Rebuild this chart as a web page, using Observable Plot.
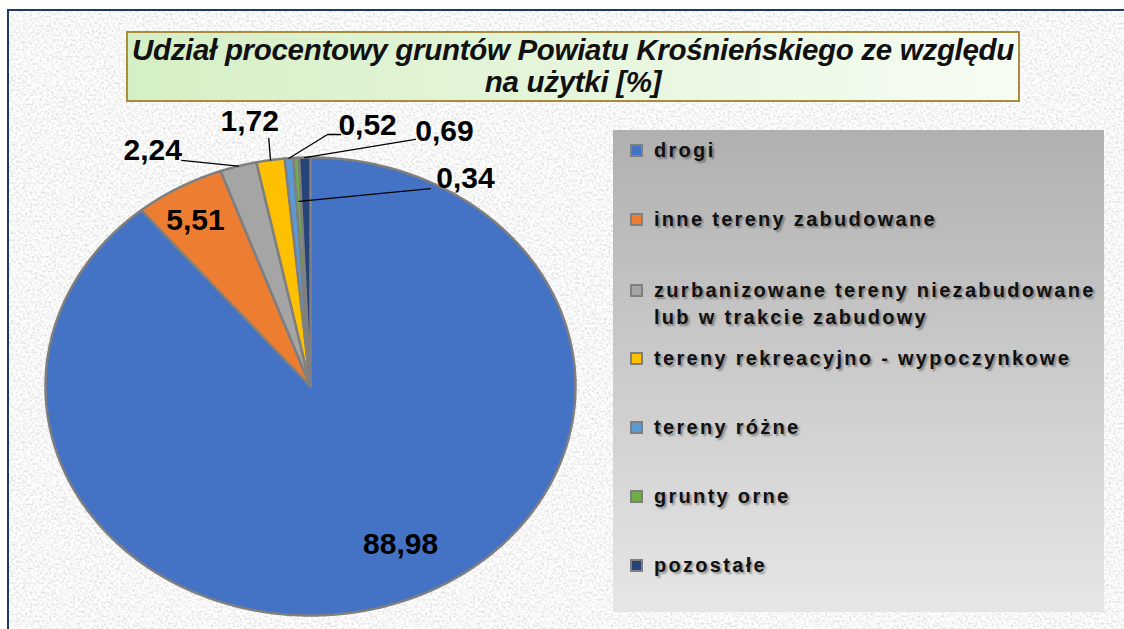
<!DOCTYPE html>
<html>
<head>
<meta charset="utf-8">
<script src="https://cdn.jsdelivr.net/npm/d3@7"></script>
<script src="https://cdn.jsdelivr.net/npm/@observablehq/plot@0.6"></script>
<style>
  html, body { margin: 0; padding: 0; width: 1124px; height: 629px; overflow: hidden; background: #ffffff; }
  #frame { position: absolute; left: 7px; top: 9px; width: 1130px; height: 640px; border-left: 2px solid #1f3864; border-top: 2px solid #1f3864; }
  #chart { position: absolute; left: 0; top: 0; }
  #title { position: absolute; left: 126px; top: 31px; width: 890px; height: 66px; border: 2px solid #a98c3c;
           background: linear-gradient(to right, #d5efc5, #f6fcf3); font-family: "Liberation Sans", Arial, sans-serif;
           font-weight: bold; font-style: italic; font-size: 29.5px; line-height: 32px; text-align: center; color: #111;
           padding-top: 1px; box-sizing: content-box; letter-spacing: -0.3px; }
  #legend { position: absolute; left: 613px; top: 130px; width: 491px; height: 482px;
            background: linear-gradient(to bottom, #b0b0b0, #e6e6e6); }
  .item { position: absolute; left: 17px; display: flex; align-items: flex-start; font-family: "Liberation Sans", Arial, sans-serif;
          font-weight: bold; font-size: 20px; line-height: 27px; letter-spacing: 2.3px; color: #111; white-space: nowrap;
          text-shadow: 2px 2px 2px rgba(0,0,0,0.35); }
  .sw { width: 9px; height: 9px; border: 2px solid #7f7f7f; margin-top: 7px; margin-right: 11px; flex: none; }
</style>
</head>
<body>
<div id="frame"></div>
<div id="chart"></div>
<div id="title">Udział procentowy gruntów Powiatu Krośnieńskiego ze względu<br>na użytki [%]</div>
<div id="legend"></div>
<script>
// ---- data ----
const categories = [
  "drogi",
  "inne tereny zabudowane",
  "zurbanizowane tereny niezabudowane lub w trakcie zabudowy",
  "tereny rekreacyjno - wypoczynkowe",
  "tereny różne",
  "grunty orne",
  "pozostałe"
];
const legendLines = [
  ["drogi"],
  ["inne tereny zabudowane"],
  ["zurbanizowane tereny niezabudowane", "lub w trakcie zabudowy"],
  ["tereny rekreacyjno - wypoczynkowe"],
  ["tereny różne"],
  ["grunty orne"],
  ["pozostałe"]
];
const values = [88.98, 5.51, 2.24, 1.72, 0.52, 0.34, 0.69];
const colors = ["#4472c4", "#ed7d31", "#a5a5a5", "#ffc000", "#5b9bd5", "#70ad47", "#264478"];

// ---- layout (label placement, polar: degrees clockwise from top, radius factor) ----
const labelAngle = [153.8, 329.1, 330.0, 348.8, 10.7, 32.8, 24.4];
const labelRadius = [0.77, 0.845, 1.191, 1.18, 1.16, 1.08, 1.223];
// leader lines: pixel offset of start from label centre, optional elbow, end radius
const leaderStart = [null, null, [29, 10], [19, 17], [-27, 9], [-35, 10], [-29, 8]];
const leaderElbow = [null, null, null, null, [-40, 9], null, null];
const leaderEndR = [null, null, 1.0, 1.0, 1.0, 0.81, 1.0];

const W = 1124, H = 629, cx = 310, cy = 386, rx = 265, ry = 229;

// background texture
const noise = "<svg xmlns='http://www.w3.org/2000/svg' width='400' height='400'><filter id='f'><feTurbulence type='fractalNoise' baseFrequency='0.42' numOctaves='3' seed='7'/><feColorMatrix type='matrix' values='0.6 0 0 0 0.63  0.6 0 0 0 0.63  0.6 0 0 0 0.63  0 0 0 0 1'/></filter><rect width='400' height='400' filter='url(#f)'/></svg>";
document.getElementById("frame").style.background = `url("data:image/svg+xml,${encodeURIComponent(noise)}")`;

// ---- pie geometry ----
const total = d3.sum(values);
let acc = 0;
const slices = values.map((v, i) => {
  const a0 = acc / total * 2 * Math.PI; acc += v;
  const a1 = acc / total * 2 * Math.PI;
  return {name: categories[i], value: v, a0, a1, mid: (a0 + a1) / 2};
});
const poly = [];
slices.forEach(s => {
  poly.push({name: s.name, x: 0, y: 0});
  const n = Math.max(2, Math.ceil((s.a1 - s.a0) / 0.004));
  for (let k = 0; k <= n; k++) {
    const a = s.a0 + (s.a1 - s.a0) * k / n;
    poly.push({name: s.name, x: Math.sin(a), y: Math.cos(a)});
  }
});

const fmt = v => v.toFixed(2).replace(".", ",");
const labels = slices.map((s, i) => {
  const a = labelAngle[i] * Math.PI / 180;
  return {text: fmt(s.value), x: labelRadius[i] * Math.sin(a), y: labelRadius[i] * Math.cos(a)};
});
const leaders = [];
slices.forEach((s, i) => {
  if (!leaderStart[i]) return;
  const L = labels[i];
  leaders.push({id: i, x: L.x + leaderStart[i][0] / rx, y: L.y - leaderStart[i][1] / ry});
  if (leaderElbow[i]) leaders.push({id: i, x: L.x + leaderElbow[i][0] / rx, y: L.y - leaderElbow[i][1] / ry});
  leaders.push({id: i, x: leaderEndR[i] * Math.sin(s.mid), y: leaderEndR[i] * Math.cos(s.mid)});
});

const chart = Plot.plot({
  width: W, height: H,
  margin: 0,
  x: {domain: [-cx / rx, (W - cx) / rx], axis: null},
  y: {domain: [-(H - cy) / ry, cy / ry], axis: null},
  color: {domain: categories, range: colors},
  style: {background: "transparent", overflow: "visible"},
  marks: [
    Plot.line(poly, {x: "x", y: "y", z: "name", fill: "name", stroke: "#7f7f7f", strokeWidth: 2.5,
                     strokeLinejoin: "round", curve: "linear-closed"}),
    Plot.line(leaders, {x: "x", y: "y", z: "id", stroke: "#000", strokeWidth: 1.3}),
    Plot.text(labels, {x: "x", y: "y", text: "text", fontSize: 30, fontWeight: "bold", fill: "#000",
                       fontFamily: "Liberation Sans, Arial, sans-serif"})
  ]
});
document.getElementById("chart").appendChild(chart);

// ---- legend ----
const legend = document.getElementById("legend");
categories.forEach((c, i) => {
  const item = document.createElement("div");
  item.className = "item";
  item.style.top = (7 + 69.2 * i + (legendLines[i].length > 1 ? 2 : 0)) + "px";
  const sw = document.createElement("div");
  sw.className = "sw";
  sw.style.background = colors[i];
  const tx = document.createElement("div");
  tx.innerHTML = legendLines[i].join("<br>");
  item.appendChild(sw); item.appendChild(tx);
  legend.appendChild(item);
});
</script>
</body>
</html>
